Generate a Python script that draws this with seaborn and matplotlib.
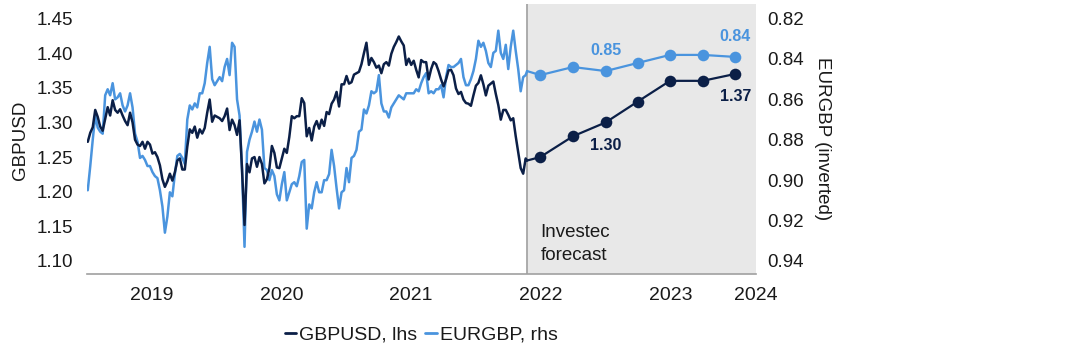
import numpy as np
import pandas as pd
import matplotlib
matplotlib.use("Agg")
import matplotlib.pyplot as plt
import seaborn as sns
from matplotlib.lines import Line2D
from matplotlib.ticker import FormatStrFormatter

# ---------------- data (weekly Friday readings, Jan 2019 - May 2022) ----------------
gbpusd_2019 = [
    1.272, 1.285, 1.293, 1.318,
    1.308, 1.294, 1.288, 1.305,
    1.322, 1.310, 1.332, 1.318, 1.314,
    1.319, 1.310, 1.302, 1.296,
    1.314, 1.300, 1.275, 1.268, 1.266,
    1.272, 1.262, 1.272, 1.268,
    1.255, 1.257, 1.250, 1.238,
    1.218, 1.207, 1.215, 1.226, 1.216,
    1.228, 1.245, 1.248, 1.232,
    1.232, 1.265, 1.290, 1.285,
    1.294, 1.278, 1.290, 1.284, 1.292,
    1.314, 1.333, 1.301, 1.310,
]
gbpusd_2020 = [
    1.308, 1.306, 1.302, 1.309, 1.320,
    1.289, 1.304, 1.296, 1.282,
    1.303, 1.232, 1.152, 1.240,
    1.228, 1.248, 1.250, 1.236,
    1.250, 1.240, 1.212, 1.218, 1.234,
    1.266, 1.256, 1.235, 1.234,
    1.248, 1.262, 1.256, 1.279, 1.309,
    1.306, 1.309, 1.309, 1.335,
    1.328, 1.280, 1.292, 1.274,
    1.294, 1.302, 1.291, 1.304, 1.295,
    1.315, 1.312, 1.327, 1.333,
    1.344, 1.323, 1.355, 1.355,
]
gbpusd_2021 = [
    1.367, 1.356, 1.358, 1.369, 1.371,
    1.373, 1.384, 1.400, 1.415,
    1.383, 1.393, 1.387, 1.379,
    1.382, 1.371, 1.384, 1.387, 1.382,
    1.399, 1.409, 1.416, 1.424,
    1.417, 1.411, 1.383, 1.392,
    1.383, 1.389, 1.376, 1.365, 1.390,
    1.387, 1.387, 1.362, 1.377,
    1.387, 1.384, 1.374, 1.362,
    1.352, 1.362, 1.375, 1.376, 1.368,
    1.349, 1.341, 1.344, 1.333,
    1.328, 1.327, 1.324, 1.339, 1.353,
]
gbpusd_2022 = [
    1.357, 1.368, 1.355, 1.339,
    1.353, 1.356, 1.359, 1.341,
    1.325, 1.304, 1.318, 1.318,
    1.311, 1.303, 1.306, 1.280, 1.257,
    1.234, 1.226, 1.248,
]
eurgbp_2019 = [
    0.905, 0.893, 0.880, 0.868,
    0.874, 0.876, 0.877, 0.858,
    0.855, 0.858, 0.852, 0.860, 0.859,
    0.857, 0.863, 0.866, 0.863,
    0.857, 0.864, 0.877, 0.881, 0.889,
    0.888, 0.890, 0.893, 0.893,
    0.896, 0.898, 0.899, 0.905,
    0.913, 0.926, 0.918, 0.906, 0.908,
    0.897, 0.888, 0.887, 0.889,
    0.892, 0.870, 0.863, 0.865,
    0.862, 0.864, 0.857, 0.857, 0.852,
    0.842, 0.834, 0.850, 0.853,
]
eurgbp_2020 = [
    0.851, 0.849, 0.851, 0.844, 0.840,
    0.848, 0.832, 0.834, 0.860,
    0.868, 0.895, 0.933, 0.886,
    0.880, 0.876, 0.871, 0.876,
    0.870, 0.875, 0.894, 0.895, 0.900,
    0.895, 0.898, 0.907, 0.910,
    0.902, 0.896, 0.910, 0.906, 0.902,
    0.901, 0.903, 0.898, 0.891,
    0.890, 0.924, 0.912, 0.914,
    0.906, 0.901, 0.906, 0.906, 0.900,
    0.900, 0.897, 0.885, 0.893,
    0.904, 0.914, 0.906, 0.905,
]
eurgbp_2021 = [
    0.894, 0.901, 0.889, 0.888, 0.885,
    0.876, 0.875, 0.865, 0.867,
    0.863, 0.856, 0.857, 0.856,
    0.848, 0.862, 0.866, 0.866, 0.869,
    0.864, 0.862, 0.860, 0.858,
    0.859, 0.860, 0.857, 0.857,
    0.857, 0.857, 0.855, 0.856, 0.852,
    0.849, 0.847, 0.857, 0.856,
    0.857, 0.855, 0.855, 0.853,
    0.859, 0.849, 0.843, 0.844, 0.844,
    0.843, 0.842, 0.840, 0.849,
    0.853, 0.853, 0.850, 0.846, 0.840,
]
eurgbp_2022 = [
    0.831, 0.834, 0.832, 0.836,
    0.842, 0.844, 0.837, 0.836,
    0.826, 0.837, 0.840, 0.833,
    0.845, 0.834, 0.826, 0.836, 0.845,
    0.856, 0.849, 0.848,
]
hist_start = "2019-01-04"
hist_end = "2022-05-24"
gbpusd_last = 1.245
eurgbp_last = 0.846

forecast_dates = ["2022-06-30", "2022-09-30", "2022-12-31", "2023-03-31",
                  "2023-06-30", "2023-09-30", "2023-12-31"]
gbpusd_fc = [1.25, 1.28, 1.30, 1.33, 1.36, 1.36, 1.37]
eurgbp_fc = [0.848, 0.844, 0.846, 0.842, 0.838, 0.838, 0.839]

year_labels = ["2019", "2020", "2021", "2022", "2023", "2024"]
gbp_ticks = [1.10, 1.15, 1.20, 1.25, 1.30, 1.35, 1.40, 1.45]
eur_ticks = [0.82, 0.84, 0.86, 0.88, 0.90, 0.92, 0.94]

# ---------------- build series ----------------
gbp_weekly = gbpusd_2019 + gbpusd_2020 + gbpusd_2021 + gbpusd_2022
eur_weekly = eurgbp_2019 + eurgbp_2020 + eurgbp_2021 + eurgbp_2022
wk_dates = list(pd.date_range(hist_start, periods=len(gbp_weekly), freq="W-FRI"))
h_dates = wk_dates + [pd.Timestamp(hist_end)]
hist = pd.DataFrame({"date": h_dates,
                     "gbpusd": gbp_weekly + [gbpusd_last],
                     "eurgbp": eur_weekly + [eurgbp_last]})
fc = pd.DataFrame({"date": [pd.Timestamp(hist_end)] + [pd.Timestamp(d) for d in forecast_dates],
                   "gbpusd": [gbpusd_last] + gbpusd_fc,
                   "eurgbp": [eurgbp_last] + eurgbp_fc})
fc_pts = fc.iloc[1:]

DARK = "#0B1F47"
LIGHT = "#4A94DE"
TXT = "#1A1A1A"

sns.set_theme(style="white")
plt.rcParams["font.family"] = ["Liberation Sans", "DejaVu Sans"]
FS = 13.5
FSB = 11.5

W, H = 1088, 364
fig = plt.figure(figsize=(W / 100, H / 100), dpi=100)
L, R, T, B = 86.7, 756.0, 4.0, 274.3
ax = fig.add_axes([L / W, 1 - B / H, (R - L) / W, (B - T) / H])
ax2 = ax.twinx()
ax.set_zorder(ax2.get_zorder() + 1)
ax.patch.set_visible(False)

# forecast shading (on lower axis)
ax2.axvspan(pd.Timestamp(hist_end), pd.Timestamp("2024-03-31"), color="#E8E8E8", zorder=0, lw=0)
ax2.axvline(pd.Timestamp(hist_end), color="#A6A6A6", lw=1.3, zorder=1)

# EURGBP on right axis
sns.lineplot(data=hist, x="date", y="eurgbp", ax=ax2, color=LIGHT, lw=1.8, zorder=3)
sns.lineplot(data=fc, x="date", y="eurgbp", ax=ax2, color=LIGHT, lw=1.6, zorder=3)
sns.scatterplot(data=fc_pts, x="date", y="eurgbp", ax=ax2, color=LIGHT, s=70,
                edgecolor=LIGHT, linewidth=0, zorder=4)

# GBPUSD on left axis
sns.lineplot(data=hist, x="date", y="gbpusd", ax=ax, color=DARK, lw=1.8, zorder=3)
sns.lineplot(data=fc, x="date", y="gbpusd", ax=ax, color=DARK, lw=1.6, zorder=3)
sns.scatterplot(data=fc_pts, x="date", y="gbpusd", ax=ax, color=DARK, s=70,
                edgecolor=DARK, linewidth=0, zorder=4)

# axes limits
ax.set_xlim(pd.Timestamp("2019-01-01"), pd.Timestamp("2024-02-27"))
ax.set_ylim(1.0808, 1.4709)
ax2.set_ylim(0.9466, 0.8128)
ax.set_xlabel("")
ax.set_ylabel("")
ax2.set_ylabel("")

# y ticks
ax.set_yticks(gbp_ticks)
ax.yaxis.set_major_formatter(FormatStrFormatter("%.2f"))
ax.tick_params(axis="y", length=0, pad=9.9, labelsize=FS, labelcolor=TXT)
ax2.set_yticks(eur_ticks)
ax2.yaxis.set_major_formatter(FormatStrFormatter("%.2f"))
ax2.tick_params(axis="y", length=0, pad=7.9, labelsize=FS, labelcolor=TXT)

# x ticks: marks at year starts, labels mid-year
major = [pd.Timestamp(f"{y}-01-01") for y in range(2019, 2025)]
ax.set_xticks(major)
ax.set_xticklabels([""] * len(major))
minor = [pd.Timestamp(f"{y}-07-02") for y in range(2019, 2024)] + [pd.Timestamp("2024-02-27")]
ax.set_xticks(minor, minor=True)
ax.set_xticklabels(year_labels, minor=True)
ax.tick_params(axis="x", which="major", length=5, width=1.2, color="#A0A0A0", direction="out")
ax.tick_params(axis="x", which="minor", length=0, pad=9, labelsize=14, labelcolor=TXT)

for a in (ax, ax2):
    for s in a.spines.values():
        s.set_visible(False)
    a.grid(False)
ax.spines["bottom"].set_visible(True)
ax.spines["bottom"].set_color("#A0A0A0")
ax.spines["bottom"].set_linewidth(1.2)

# axis titles
fig.text(20 / W, 1 - 140 / H, "GBPUSD", rotation=90, ha="center", va="center",
         fontsize=FS, color=TXT)
fig.text(822 / W, 1 - 139 / H, "EURGBP (inverted)", rotation=270, ha="center", va="center",
         fontsize=FS, color=TXT)

# forecast note
ax.text(0.678, 0.112, "Investec\nforecast", transform=ax.transAxes, ha="left", va="center",
        fontsize=FS, color=TXT, linespacing=1.5)

# value labels
i_mid, i_last = 2, 6
for i in (i_mid, i_last):
    d = pd.Timestamp(forecast_dates[i])
    ax2.annotate(f"{eurgbp_fc[i]:.2f}", (d, eurgbp_fc[i]), xytext=(0, 15), textcoords="offset points",
                 ha="center", va="center", fontsize=FSB, fontweight="bold", color=LIGHT)
    ax.annotate(f"{gbpusd_fc[i]:.2f}", (d, gbpusd_fc[i]), xytext=(0, -16.5), textcoords="offset points",
                ha="center", va="center", fontsize=FSB, fontweight="bold", color=DARK)

# legend
handles = [Line2D([], [], color=DARK, lw=2), Line2D([], [], color=LIGHT, lw=2)]
fig.legend(handles, ["GBPUSD, lhs", "EURGBP, rhs"], loc="center", bbox_to_anchor=(421 / W, 1 - 335 / H),
           ncol=2, frameon=False, fontsize=14, handlelength=0.6, handletextpad=0.15,
           columnspacing=0.4, labelcolor=TXT)

fig.savefig("out.png", dpi=100)
